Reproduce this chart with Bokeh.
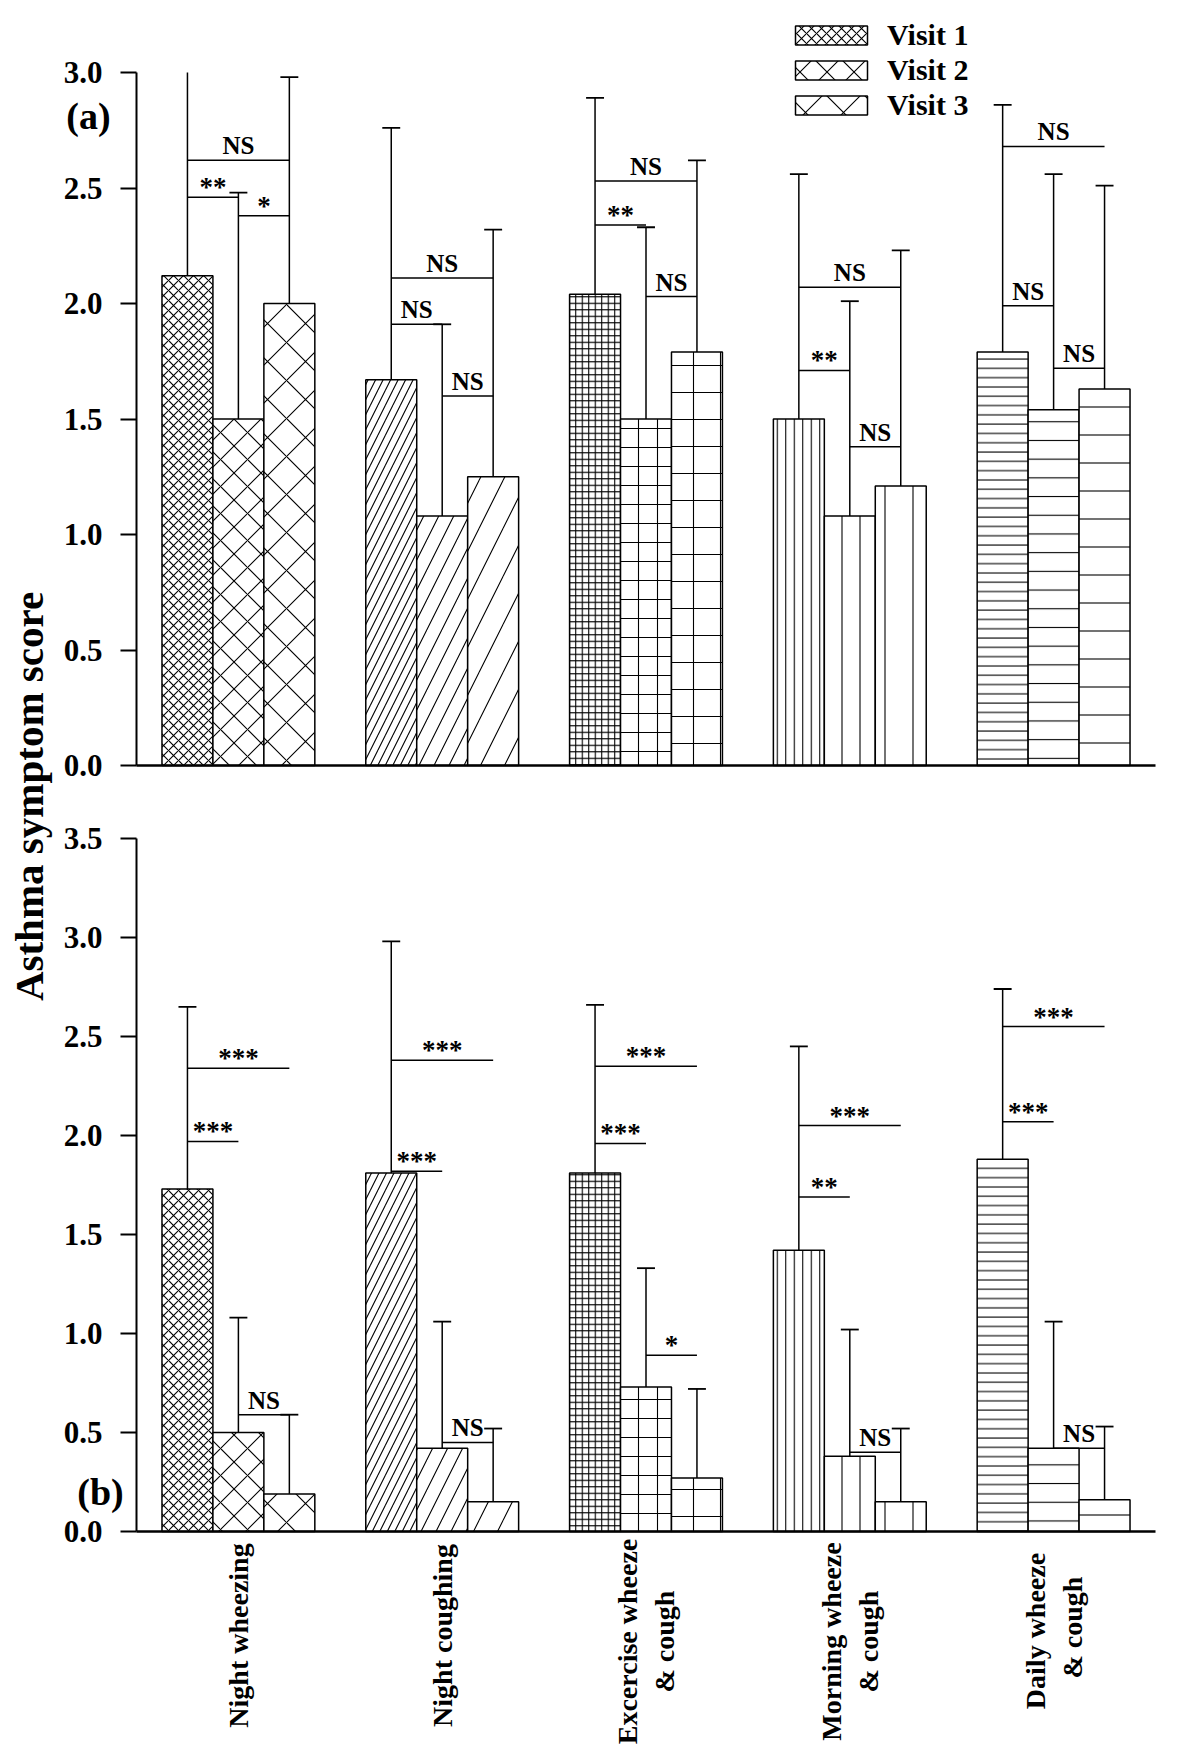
import numpy as np
from bokeh.plotting import figure
from bokeh.models import (ColumnDataSource, Range1d, FixedTicker, NumeralTickFormatter,
                          Legend, LegendItem, Label)
from bokeh.layouts import row, column
from bokeh.embed import file_html
from bokeh.resources import INLINE
from bokeh.core.properties import value

# ---------------- data ----------------
categories = ["Night wheezing", "Night coughing", "Excercise wheeze\n& cough",
              "Morning wheeze\n& cough", "Daily  wheeze\n& cough"]
visits = ["Visit 1", "Visit 2", "Visit 3"]

# panel (a): mean scores and upper ends of error bars
a_visit1 = [2.12, 1.67, 2.04, 1.50, 1.79]
a_visit2 = [1.50, 1.08, 1.50, 1.08, 1.54]
a_visit3 = [2.00, 1.25, 1.79, 1.21, 1.63]
a_visit1_upper = [3.12, 2.76, 2.89, 2.56, 2.86]
a_visit2_upper = [2.48, 1.91, 2.33, 2.01, 2.56]
a_visit3_upper = [2.98, 2.32, 2.62, 2.23, 2.51]

# panel (b)
b_visit1 = [1.73, 1.81, 1.81, 1.42, 1.88]
b_visit2 = [0.50, 0.42, 0.73, 0.38, 0.42]
b_visit3 = [0.19, 0.15, 0.27, 0.15, 0.16]
b_visit1_upper = [2.65, 2.98, 2.66, 2.45, 2.74]
b_visit2_upper = [1.08, 1.06, 1.33, 1.02, 1.06]
b_visit3_upper = [0.59, 0.52, 0.72, 0.52, 0.53]

# significance brackets: category index, from visit, to visit, height, label
sig_category = [0, 0, 0, 1, 1, 1, 2, 2, 2, 3, 3, 3, 4, 4, 4]
sig_from = [0, 0, 1] * 5
sig_to = [2, 1, 2] * 5
a_sig_height = [2.62, 2.46, 2.38, 2.11, 1.91, 1.60, 2.53, 2.34, 2.03,
                2.07, 1.71, 1.38, 2.68, 1.99, 1.72]
a_sig_label = ["NS", "**", "*", "NS", "NS", "NS", "NS", "**", "NS",
               "NS", "**", "NS", "NS", "NS", "NS"]
b_sig_height = [2.34, 1.97, 0.59, 2.38, 1.82, 0.45, 2.35, 1.96, 0.89,
                2.05, 1.69, 0.40, 2.55, 2.07, 0.42]
b_sig_label = ["***", "***", "NS", "***", "***", "NS", "***", "***", "*",
               "***", "**", "NS", "***", "***", "NS"]

a_ticks = [0.0, 0.5, 1.0, 1.5, 2.0, 2.5, 3.0]
b_ticks = [0.0, 0.5, 1.0, 1.5, 2.0, 2.5, 3.0, 3.5]

# ---------------- styles / layout ----------------
FONT = value("Liberation Serif")
patterns = ["diagonal_cross", "right_diagonal_line", "cross", "vertical_line", "horizontal_line"]
scales = [[10, 27, 38], [15, 30, 48], [6.5, 19, 27], [8.5, 18, 28], [9.3, 18.7, 28]]
BAR_W = 0.25
CAP = 0.044

TITLE_W = 58
MAIN_W = 1142
PPU_X = 203.8                       # pixels per category unit
AXIS_OFFSET = 78                    # pixels from canvas left to y axis
X_START = 0.5 - AXIS_OFFSET / PPU_X
X_END = X_START + MAIN_W / PPU_X
TOP_H, BOT_H = 800, 948


def make_panel(means, uppers, sig_h, sig_lab, y_max, ticks, height, zero_px, ppu):
    y_end = zero_px / ppu
    y_start = y_end - height / ppu
    p = figure(width=MAIN_W, height=height, x_range=Range1d(X_START, X_END),
               y_range=Range1d(y_start, y_end), output_backend="svg",
               toolbar_location=None, min_border=0)
    p.grid.visible = False
    p.outline_line_color = None
    p.background_fill_color = "white"

    bar_renderers = []
    centers = []
    for vi in range(3):
        xs = [c + 1 + (vi - 1) * BAR_W for c in range(len(categories))]
        centers.append(xs)
        src = ColumnDataSource(dict(x=xs, top=means[vi], pat=patterns,
                                    sc=[scales[c][vi] for c in range(len(categories))]))
        r = p.vbar(x="x", top="top", bottom=0, width=BAR_W, source=src,
                   fill_color="white", line_color="black", line_width=1.5,
                   hatch_pattern="pat", hatch_scale="sc", hatch_color="black",
                   hatch_weight=1.1)
        bar_renderers.append(r)
        shown = [min(u, y_max) for u in uppers[vi]]
        p.segment(x0=xs, y0=means[vi], x1=xs, y1=shown, line_color="black",
                  line_width=1.5)
        capped = [i for i, u in enumerate(uppers[vi]) if u <= y_max]
        p.segment(x0=[xs[i] - CAP for i in capped], y0=[uppers[vi][i] for i in capped],
                  x1=[xs[i] + CAP for i in capped], y1=[uppers[vi][i] for i in capped],
                  line_color="black", line_width=1.8)

    bx0 = [centers[f][c] for c, f in zip(sig_category, sig_from)]
    bx1 = [centers[t][c] for c, t in zip(sig_category, sig_to)]
    p.segment(x0=bx0, y0=sig_h, x1=bx1, y1=sig_h, line_color="black", line_width=1.5)
    mid = [(a + b) / 2 for a, b in zip(bx0, bx1)]
    ns_i = [i for i, l in enumerate(sig_lab) if l == "NS"]
    st_i = [i for i, l in enumerate(sig_lab) if l != "NS"]
    p.text(x=[mid[i] for i in ns_i], y=[sig_h[i] + 14.5 / ppu for i in ns_i],
           text=[sig_lab[i] for i in ns_i], text_font=FONT, text_font_style="bold",
           text_font_size="25px", text_align="center", text_baseline="middle",
           text_color="black")
    p.text(x=[mid[i] for i in st_i], y=[sig_h[i] + 10 / ppu for i in st_i],
           text=[sig_lab[i] for i in st_i], text_font=FONT, text_font_style="bold",
           text_font_size="27px", text_align="center", text_baseline="middle",
           text_color="black")

    # y axis, drawn inside the canvas at x = 0.5
    p.yaxis.fixed_location = 0.5
    p.yaxis.bounds = (0, y_max)
    p.yaxis.ticker = FixedTicker(ticks=ticks)
    p.yaxis.formatter = NumeralTickFormatter(format="0.0")
    p.yaxis.axis_line_width = 2
    p.yaxis.axis_line_color = "black"
    p.yaxis.major_tick_line_width = 2
    p.yaxis.major_tick_line_color = "black"
    p.yaxis.major_tick_out = 16
    p.yaxis.major_tick_in = 0
    p.yaxis.minor_tick_line_color = None
    p.yaxis.major_label_standoff = 18
    p.yaxis.major_label_text_font = "Liberation Serif"
    p.yaxis.major_label_text_font_style = "bold"
    p.yaxis.major_label_text_font_size = "31px"
    p.yaxis.major_label_text_color = "black"

    # x axis at y = 0
    p.xaxis.fixed_location = 0
    p.xaxis.bounds = (0.5, 5.5)
    p.xaxis.ticker = FixedTicker(ticks=[])
    p.xaxis.axis_line_width = 2.5
    p.xaxis.axis_line_color = "black"
    p.xaxis.major_tick_line_color = None
    p.xaxis.minor_tick_line_color = None
    return p, bar_renderers


PPU_A = 231.0
PPU_B = 198.0
top, top_bars = make_panel([a_visit1, a_visit2, a_visit3],
                           [a_visit1_upper, a_visit2_upper, a_visit3_upper],
                           a_sig_height, a_sig_label, 3.0, a_ticks, TOP_H, 765, PPU_A)
bottom, _ = make_panel([b_visit1, b_visit2, b_visit3],
                       [b_visit1_upper, b_visit2_upper, b_visit3_upper],
                       b_sig_height, b_sig_label, 3.5, b_ticks, BOT_H, 731, PPU_B)

legend = Legend(items=[LegendItem(label=v, renderers=[top_bars[i]], index=0)
                       for i, v in enumerate(visits)],
                location=(728, 678), orientation="vertical",
                label_text_font="Liberation Serif", label_text_font_style="bold",
                label_text_font_size="30px", label_text_color="black",
                glyph_width=90, glyph_height=24, label_height=33, label_standoff=11,
                spacing=1, padding=0, margin=0, border_line_color=None,
                background_fill_alpha=0)
top.add_layout(legend, "center")

top.add_layout(Label(x=0.5 - 48 / PPU_X, y=2.81, text="(a)", text_font="Liberation Serif",
                     text_font_style="bold", text_font_size="38px",
                     text_align="center", text_baseline="middle", text_color="black"))
bottom.add_layout(Label(x=0.5 - 36 / PPU_X, y=0.20, text="(b)", text_font="Liberation Serif",
                        text_font_style="bold", text_font_size="38px",
                        text_align="center", text_baseline="middle", text_color="black"))

# category labels below the lower panel (centre of each rotated block, px below axis)
label_centre_px = [104, 104, 110, 110, 96]
for i, cat in enumerate(categories):
    bottom.add_layout(Label(x=i + 1, y=-label_centre_px[i] / PPU_B, text=cat,
                            angle=np.pi / 2, text_font="Liberation Serif",
                            text_font_style="bold", text_font_size="28px",
                            text_align="center", text_baseline="middle",
                            text_color="black"))

# y-axis title spanning both panels
TOTAL_H = TOP_H + BOT_H
title_fig = figure(width=TITLE_W, height=TOTAL_H, x_range=Range1d(0, TITLE_W),
                   y_range=Range1d(0, TOTAL_H), output_backend="svg",
                   toolbar_location=None, min_border=0)
title_fig.axis.visible = False
title_fig.grid.visible = False
title_fig.outline_line_color = None
title_fig.text(x=[28], y=[TOTAL_H - 796], text=["Asthma symptom score"], angle=np.pi / 2,
               text_font=FONT, text_font_style="bold", text_font_size="41px",
               text_align="center", text_baseline="middle", text_color="black")

layout = row(title_fig, column(top, bottom))
open("out.html", "w").write(file_html(layout, INLINE))
